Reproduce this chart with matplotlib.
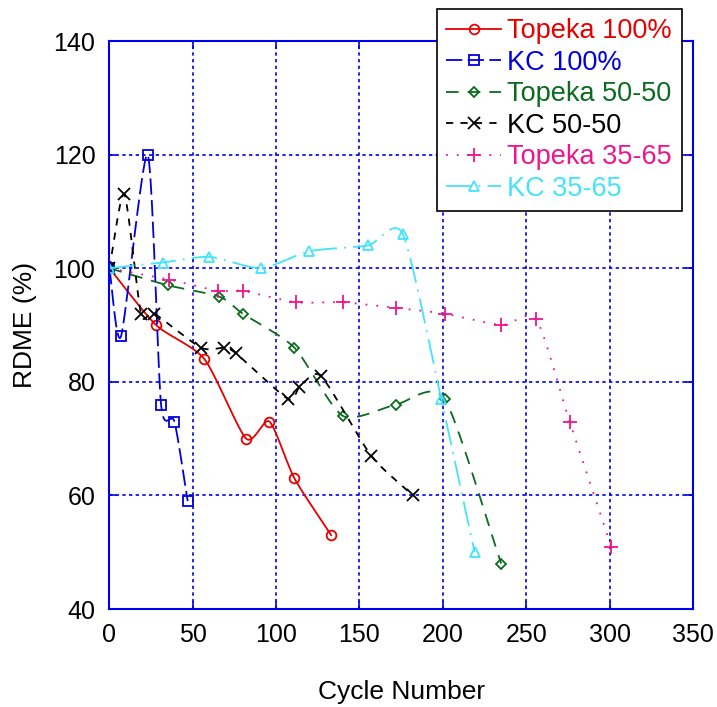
import numpy as np
import matplotlib
matplotlib.use('Agg')
import matplotlib.pyplot as plt
from matplotlib.lines import Line2D

plt.rcParams['font.family'] = ['Liberation Sans', 'DejaVu Sans']

# data (cycle number, RDME %)
topeka100_x = [0, 28, 57, 82, 96, 111, 133]
topeka100_y = [100, 90, 84, 70, 73, 63, 53]

kc100_x = [0, 7, 23, 31, 39, 47]
kc100_y = [100, 88, 120, 76, 73, 59]

topeka5050_x = [0, 35, 66, 80, 111, 140, 172, 201, 235]
topeka5050_y = [100, 97, 95, 92, 86, 74, 76, 77, 48]

kc5050_x = [0, 9, 19, 27, 55, 69, 76, 107, 114, 127, 157, 182]
kc5050_y = [100, 113, 92, 92, 86, 86, 85, 77, 79, 81, 67, 60]

topeka3565_x = [0, 36, 65, 80, 112, 140, 172, 201, 235, 256, 276, 301]
topeka3565_y = [100, 98, 96, 96, 94, 94, 93, 92, 90, 91, 73, 51]

kc3565_x = [0, 32, 60, 91, 120, 155, 176, 199, 219]
kc3565_y = [100, 101, 102, 100, 103, 104, 106, 77, 50]

labels = ['Topeka 100%', 'KC 100%', 'Topeka 50-50', 'KC 50-50',
          'Topeka 35-65', 'KC 35-65']


def smooth(x, y, n=20, k=0.35):
    # cardinal spline through the points, only for the look of the line
    x = np.asarray(x, float)
    y = np.asarray(y, float)
    px = np.concatenate([[2*x[0]-x[1]], x, [2*x[-1]-x[-2]]])
    py = np.concatenate([[2*y[0]-y[1]], y, [2*y[-1]-y[-2]]])
    t = np.linspace(0, 1, n, endpoint=False)
    h00 = 2*t**3 - 3*t**2 + 1
    h10 = t**3 - 2*t**2 + t
    h01 = -2*t**3 + 3*t**2
    h11 = t**3 - t**2
    xs, ys = [], []
    for i in range(1, len(px)-2):
        for p, out in ((px, xs), (py, ys)):
            m1 = k*(p[i+1] - p[i-1])
            m2 = k*(p[i+2] - p[i])
            out.extend(h00*p[i] + h10*m1 + h01*p[i+1] + h11*m2)
    xs.append(x[-1])
    ys.append(y[-1])
    return np.array(xs), np.array(ys)


series = [
    (topeka100_x, topeka100_y, '#e60000', '-', 'o', 7),
    (kc100_x, kc100_y, '#0000dd', (0, (9, 3)), 's', 7),
    (topeka5050_x, topeka5050_y, '#0b6b1e', (0, (7, 5)), 'D', 5.5),
    (kc5050_x, kc5050_y, '#000000', (0, (4, 4)), 'x', 8),
    (topeka3565_x, topeka3565_y, '#f0148c', (0, (1, 5)), '+', 10),
    (kc3565_x, kc3565_y, '#44e4f8', (0, (14, 4, 1, 4)), '^', 7),
]

fig = plt.figure(figsize=(7.17, 7.07), dpi=100)
ax = fig.add_axes([0.1525, 0.1386, 0.814, 0.8034])

handles = []
for (x, y, c, ls, m, ms), lab in zip(series, labels):
    sx, sy = smooth(x, y)
    ax.plot(sx, sy, color=c, linestyle=ls, lw=1.3)
    ax.plot(x, y, linestyle='none', marker=m, markersize=ms,
            markerfacecolor='none', markeredgecolor=c, markeredgewidth=1.3)
    handles.append(Line2D([], [], color=c, linestyle=ls, lw=1.3, marker=m,
                          markersize=ms, markerfacecolor='none',
                          markeredgecolor=c, markeredgewidth=1.3))

ax.set_xlim(0, 350)
ax.set_ylim(40, 140)
ax.set_xticks(np.arange(0, 351, 50))
ax.set_yticks(np.arange(40, 141, 20))
ax.grid(True, color='#0000ee', linestyle=(0, (2, 2)), lw=1.2)
for s in ax.spines.values():
    s.set_color('#0000ee')
    s.set_linewidth(1.5)
ax.tick_params(direction='in', color='#0000ee', length=6, width=1.2,
               labelsize=18, pad=10, top=True, right=True)
ax.set_xlabel('Cycle Number', fontsize=19, labelpad=24)
ax.set_ylabel('RDME (%)', fontsize=19, labelpad=12)

leg = fig.legend(handles, labels, loc='upper left',
                 bbox_to_anchor=(437/717, 1 - 9/707), fontsize=19.5,
                 numpoints=1, handlelength=2.0, handletextpad=0.25,
                 labelspacing=0.2, borderpad=0.35, borderaxespad=0,
                 fancybox=False, framealpha=1, edgecolor='black')
leg.get_frame().set_linewidth(1.2)
for t, h in zip(leg.get_texts(), handles):
    t.set_color(h.get_color())

fig.savefig('out.png', dpi=100)
